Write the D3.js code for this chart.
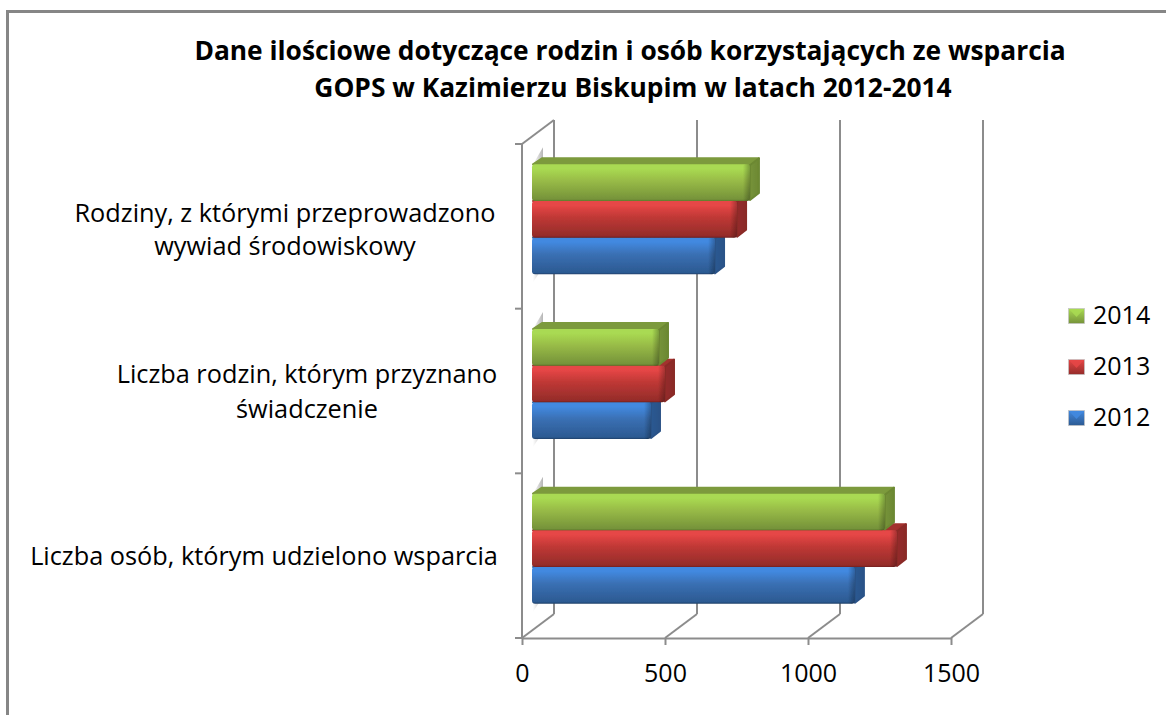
<!DOCTYPE html>
<html>
  <head>
    <meta charset="utf-8">
    <title>GOPS Kazimierz Biskupi</title>
    <style>
      html, body { margin: 0; padding: 0; background: #fff; }
      svg { display: block; font-family: "Open Sans", Lato, sans-serif; }
    </style>
  </head>
  <body>
    <svg width="1166" height="715"></svg>
  </body>
  <script src="https://cdn.jsdelivr.net/npm/d3@7/dist/d3.min.js"></script>
  <script type="text/javascript">
  const titleLines = [
    'Dane ilościowe dotyczące rodzin i osób korzystających ze wsparcia',
    'GOPS w Kazimierzu Biskupim w latach 2012-2014'
  ];
  const categories = ['rodziny', 'rodzinySwiadczenie', 'osoby'];
  const categoryLabels = [
    ['Rodziny, z którymi przeprowadzono', 'wywiad środowiskowy'],
    ['Liczba rodzin, którym przyznano', 'świadczenie'],
    ['Liczba osób, którym udzielono wsparcia']
  ];
  const years = ['2014', '2013', '2012'];
  const values2014 = [762, 444, 1234];
  const values2013 = [717, 465, 1276];
  const values2012 = [640, 416, 1129];
  const xTicks = [0, 500, 1000, 1500];

  const svg = d3.select('svg');
  const defs = svg.append('defs');

  const wallLeft = 522, wallRight = 951, wallTop = 144, floorY = 638;
  const depthX = 32, depthY = 24;      // wall depth of the 3d box
  const barX = 10, barDepth = 10, barRise = 7;  // bar sits 10px in, and is 10px deep

  const x = d3.scaleLinear().domain([0, 1500]).range([wallLeft, wallRight]);
  const y = d3.scaleBand().domain(categories).range([wallTop, floorY]);
  const yBar = d3.scaleBand().domain(years).range([-55, 55]);

  const colors = {
    '2014': { hi: '#a9da52', mid: '#98bb47', lo: '#76933a', top: '#7c9a3c', side: '#6c8833', dark: '#5f7a2b' },
    '2013': { hi: '#e64646', mid: '#bf3835', lo: '#952c2a', top: '#a2302e', side: '#8a2a28', dark: '#73201f' },
    '2012': { hi: '#4289e0', mid: '#3a70b4', lo: '#2c5a92', top: '#30639f', side: '#2a5288', dark: '#1f4068' }
  };

  years.forEach(function(yr) {
    const c = colors[yr];
    const g = defs.append('linearGradient').attr('id', 'front' + yr)
      .attr('x1', 0).attr('y1', 0).attr('x2', 0).attr('y2', 1);
    g.append('stop').attr('offset', '0').attr('stop-color', c.hi);
    g.append('stop').attr('offset', '0.12').attr('stop-color', c.hi);
    g.append('stop').attr('offset', '0.45').attr('stop-color', c.mid);
    g.append('stop').attr('offset', '0.95').attr('stop-color', c.lo);
    g.append('stop').attr('offset', '1').attr('stop-color', c.dark);
    const s = defs.append('linearGradient').attr('id', 'side' + yr)
      .attr('x1', 0).attr('y1', 0).attr('x2', 1).attr('y2', 0);
    s.append('stop').attr('offset', '0').attr('stop-color', c.lo);
    s.append('stop').attr('offset', '1').attr('stop-color', c.side);
    const m = defs.append('linearGradient').attr('id', 'mark' + yr)
      .attr('x1', 0).attr('y1', 0).attr('x2', 0).attr('y2', 1);
    m.append('stop').attr('offset', '0').attr('stop-color', c.hi);
    m.append('stop').attr('offset', '1').attr('stop-color', c.lo);
  });

  const shade = defs.append('linearGradient').attr('id', 'wallShade')
    .attr('x1', 0).attr('y1', 0).attr('x2', 1).attr('y2', 0);
  shade.append('stop').attr('offset', '0').attr('stop-color', '#fff');
  shade.append('stop').attr('offset', '1').attr('stop-color', '#b5b5b5');

  const edge = defs.append('linearGradient').attr('id', 'endShade')
    .attr('x1', 0).attr('y1', 0).attr('x2', 1).attr('y2', 0);
  edge.append('stop').attr('offset', '0').attr('stop-color', '#000').attr('stop-opacity', 0);
  edge.append('stop').attr('offset', '1').attr('stop-color', '#000').attr('stop-opacity', 0.28);

  defs.append('filter').attr('id', 'soft')
    .append('feGaussianBlur').attr('stdDeviation', 0.6);

  // outer frame, runs off the right and bottom side
  svg.append('path')
    .attr('d', 'M7.5,715V11.5H1166')
    .attr('fill', 'none').attr('stroke', '#868686').attr('stroke-width', 3);

  // title
  svg.append('g').selectAll('text').data(titleLines).enter().append('text')
    .text(function(d) { return d; })
    .attr('x', function(d, i) { return i == 0 ? 630 : 633; })
    .attr('y', function(d, i) { return i == 0 ? 60 : 97; })
    .attr('text-anchor', 'middle')
    .attr('font-size', 26.35)
    .attr('font-weight', 700)
    .attr('fill', '#000');

  // 3d box
  const grid = svg.append('g').attr('fill', 'none').attr('stroke', '#8c8c8c').attr('stroke-width', 2);
  grid.selectAll('line.back').data(xTicks).enter().append('line')
    .attr('class', 'back')
    .attr('x1', function(d) { return x(d) + depthX; })
    .attr('x2', function(d) { return x(d) + depthX; })
    .attr('y1', wallTop - depthY)
    .attr('y2', floorY - depthY);
  grid.selectAll('line.floor').data(xTicks).enter().append('line')
    .attr('class', 'floor')
    .attr('x1', function(d) { return x(d); })
    .attr('x2', function(d) { return x(d) + depthX; })
    .attr('y1', floorY)
    .attr('y2', floorY - depthY);
  grid.append('line')
    .attr('x1', wallLeft).attr('x2', wallLeft + depthX)
    .attr('y1', wallTop).attr('y2', wallTop - depthY);

  // axes
  const xAxis = d3.axisBottom(x).tickValues(xTicks).tickSize(7).tickSizeOuter(0).tickFormat(d3.format('d'));
  const xg = svg.append('g').attr('transform', 'translate(0,' + floorY + ')').call(xAxis);
  xg.selectAll('line').attr('stroke', '#8c8c8c').attr('stroke-width', 2);
  xg.select('.domain').attr('stroke', '#8c8c8c').attr('stroke-width', 2);
  xg.selectAll('text')
    .attr('y', 44)
    .attr('dy', 0)
    .attr('font-family', '"Open Sans", Lato, sans-serif')
    .attr('font-size', 25)
    .attr('fill', '#000');

  const yEdges = categories.map(function(c) { return y(c); }).concat([floorY]);
  const yAxis = svg.append('g').attr('stroke', '#8c8c8c').attr('stroke-width', 2);
  yAxis.append('line')
    .attr('x1', wallLeft).attr('x2', wallLeft)
    .attr('y1', wallTop).attr('y2', floorY);
  yAxis.selectAll('line.tick').data(yEdges).enter().append('line')
    .attr('class', 'tick')
    .attr('x1', wallLeft - 7).attr('x2', wallLeft)
    .attr('y1', function(d) { return d; })
    .attr('y2', function(d) { return d; });

  // category labels, each block centred on its own widest line
  const labelCentre = [285, 307, 264];
  const labelBase = [[222, 255], [383, 418], [565]];
  const labelG = svg.append('g');
  categories.forEach(function(c, i) {
    labelG.selectAll('text.l' + i).data(categoryLabels[i]).enter().append('text')
      .attr('class', 'l' + i)
      .text(function(d) { return d; })
      .attr('x', labelCentre[i])
      .attr('y', function(d, j) { return labelBase[i][j]; })
      .attr('text-anchor', 'middle')
      .attr('font-size', 25.3)
      .attr('fill', '#000');
  });

  // bars, blue first so that the upper ones overlap its side
  const seriesRows = [
    { year: '2012', values: values2012 },
    { year: '2013', values: values2013 },
    { year: '2014', values: values2014 }
  ];

  function poly(points) {
    return d3.line()(points) + 'Z';
  }

  const barsG = svg.append('g').attr('filter', 'url(#soft)');

  categories.forEach(function(c) {
    const cy = y(c) + y.bandwidth() / 2 - barRise;
    const top = cy + yBar('2014');
    const bottom = cy + yBar('2012') + yBar.bandwidth();
    barsG.append('path')
      .attr('d', poly([[barX + wallLeft + 1, top], [barX + wallLeft + barDepth + 1, top - barRise - 10],
        [barX + wallLeft + barDepth + 1, bottom - barRise], [barX + wallLeft + 1, bottom + 8]]))
      .attr('fill', 'url(#wallShade)');
  });

  seriesRows.forEach(function(row) {
    const g = barsG.append('g');
    row.values.forEach(function(v, i) {
      const y0 = y(categories[i]) + y.bandwidth() / 2 - barRise + yBar(row.year);
      const h = yBar.bandwidth();
      const left = x(0) + barX;
      const right = left + (x(v) - x(0));
      const c = colors[row.year];
      g.append('path')
        .attr('d', poly([[left + 1, y0], [left + barDepth, y0 - barRise + 1], [right + barDepth - 1, y0 - barRise + 1], [right, y0]]))
        .attr('fill', c.top)
        .attr('stroke', c.top).attr('stroke-width', 2).attr('stroke-linejoin', 'round');
      g.append('path')
        .attr('d', poly([[right, y0 + 1], [right + barDepth - 1, y0 - barRise + 1], [right + barDepth - 1, y0 + h - barRise - 1], [right, y0 + h - 1]]))
        .attr('fill', 'url(#side' + row.year + ')')
        .attr('stroke', c.side).attr('stroke-width', 2).attr('stroke-linejoin', 'round');
      g.append('rect')
        .attr('x', left).attr('y', y0)
        .attr('width', right - left).attr('height', h)
        .attr('rx', 3)
        .attr('fill', 'url(#front' + row.year + ')');
      g.append('rect')
        .attr('x', right - 7).attr('y', y0)
        .attr('width', 7).attr('height', h)
        .attr('rx', 3)
        .attr('fill', 'url(#endShade)');
    });
  });

  // legend
  const legendG = svg.append('g');
  const legendY = d3.scalePoint().domain(years).range([316, 418]);
  legendG.selectAll('rect').data(years).enter().append('rect')
    .attr('x', 1068.5)
    .attr('y', function(d) { return legendY(d) - 7.5; })
    .attr('width', 16).attr('height', 15)
    .attr('fill', function(d) { return 'url(#mark' + d + ')'; })
    .attr('stroke', '#c4c4c4').attr('stroke-width', 0.7);
  // the little bevel on top of each key
  legendG.selectAll('path').data(years).enter().append('path')
    .attr('d', function(d) {
      const t = legendY(d) - 7;
      return poly([[1069, t], [1084, t], [1076.5, t + 8]]);
    })
    .attr('fill', function(d) { return colors[d].hi; })
    .attr('opacity', 0.85);
  legendG.selectAll('text').data(years).enter().append('text')
    .text(function(d) { return d; })
    .attr('x', 1093)
    .attr('y', function(d) { return legendY(d) + 8; })
    .attr('font-size', 25)
    .attr('fill', '#000');
  </script>
</html>
